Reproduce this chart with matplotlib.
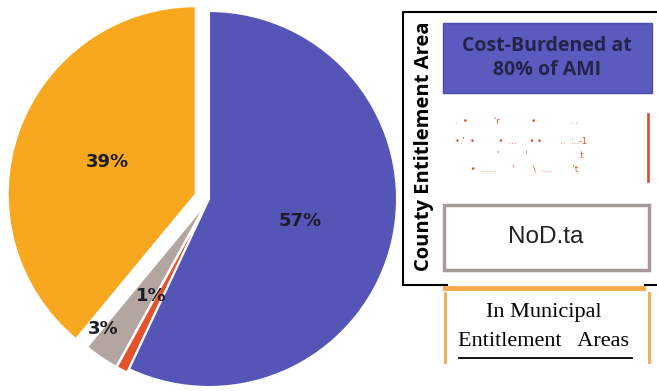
import numpy as np
import matplotlib.pyplot as plt
from matplotlib.patches import Rectangle

# pie data (start at 12 o'clock, counter-clockwise order)
categories = ['In Municipal Entitlement Areas', 'No Data', 'Other', 'Cost-Burdened at 80% of AMI']
shares = [39, 3, 1, 57]
labels = ['39%', '3%', '1%', '57%']
colors = ['#f8a81e', '#b3a6a1', '#e4512d', '#5555b8']

explode = [0.075, 0.02, 0.02, 0.0]
# where each percent label sits (radius, angle shift in degrees)
label_pos = [(0.5, 0), (0.87, -5), (0.58, -4), (0.5, -1)]

W, H = 657, 391
fig = plt.figure(figsize=(W / 100, H / 100), dpi=100)

# pie axes: centre (209,199) px, radius 188 px
cx, cy, r = 209, 199, 188
span = 1.2 * r
ax = fig.add_axes([(cx - span) / W, (H - cy - span) / H, 2 * span / W, 2 * span / H])
wedges, _ = ax.pie(shares, colors=colors, startangle=90, explode=explode,
                   wedgeprops=dict(edgecolor='white', linewidth=1.5))
ax.set_xlim(-1.2, 1.2)
ax.set_ylim(-1.2, 1.2)
ax.set_aspect('equal')
ax.axis('off')
for w, lab, (rad, shift), ex in zip(wedges, labels, label_pos, explode):
    ang = np.deg2rad((w.theta1 + w.theta2) / 2 + shift)
    ax.text((rad + ex) * np.cos(ang), (rad + ex) * np.sin(ang), lab,
            ha='center', va='center', fontsize=13, fontweight='bold', color='#1c1c24')

# overlay for the legend-like panel, pixel coordinates
ov = fig.add_axes([0, 0, 1, 1])
ov.set_xlim(0, W)
ov.set_ylim(H, 0)
ov.axis('off')

# black frame
ov.plot([403, 403, W], [285, 12, 12], color='black', lw=1.5)
ov.plot([403, 447], [285, 285], color='black', lw=1.5)
ov.plot([645, W], [285, 285], color='black', lw=1.5)
ov.text(424, 146, 'County Entitlement Area', rotation=90, ha='center', va='center',
        fontsize=14.5, fontweight='bold', color='black', family='Open Sans')

# blue box
ov.add_patch(Rectangle((443, 23), 209, 70, facecolor='#5a5abf', edgecolor='#4a4aa8', lw=1))
ov.text(547, 58, 'Cost-Burdened at\n80% of AMI', ha='center', va='center',
        fontsize=14, fontweight='bold', color='#24244a', family='Open Sans', linespacing=1.25)

# red faint item
ov.plot([648, 648], [114, 181], color='#d9553a', lw=2)
for yy, s in [(122, '.  \u2022          \'r            \u2022             . .'),
              (142, '\u2022.\'  \u2022         \u2022  ...     \u2022 \u2022       ..  :..-1'),
              (156, '                \'          \'                   .t'),
              (169, '      \u2022  ......      \'       \\  ....        \'t')]:
    ov.text(455, yy, s, fontsize=6, color='#e8502c', va='center', ha='left')

# gray box
ov.add_patch(Rectangle((444, 205), 205, 65, facecolor='white', edgecolor='#a59c9a', lw=2.5))
ov.text(546, 237, 'NoD.ta', ha='center', va='center', fontsize=17.5,
        family='Liberation Sans', color='#222222')

# orange item
ov.plot([445, 643], [288, 288], color='#f5a94a', lw=3.5)
ov.plot([445, 445], [293, 362], color='#f5a94a', lw=2)
ov.plot([649, 649], [293, 362], color='#f5a94a', lw=2)
ov.text(544, 313, 'In Municipal', ha='center', va='center', fontsize=16,
        family='Liberation Serif', color='black')
ov.text(544, 342, 'Entitlement   Areas', ha='center', va='center', fontsize=16,
        family='Liberation Serif', color='black')
ov.plot([459, 632], [358, 358], color='black', lw=1.3)

fig.savefig('out.png', dpi=100)
